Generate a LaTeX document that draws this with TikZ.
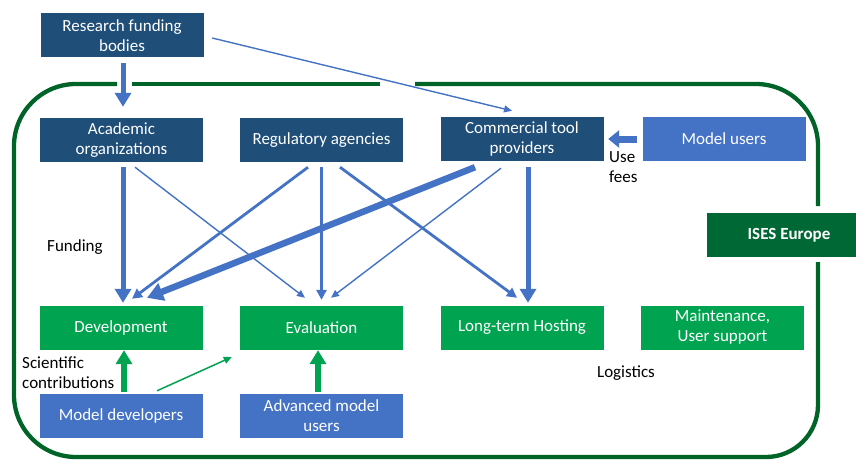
\documentclass[tikz,border=0pt]{standalone}
\usepackage{fontspec}
\setmainfont{Carlito}
\usetikzlibrary{arrows.meta,calc}
\definecolor{dblue}{RGB}{31,78,121}
\definecolor{mblue}{RGB}{68,114,196}
\definecolor{lgreen}{RGB}{0,163,79}
\definecolor{dgreen}{RGB}{0,104,52}
\definecolor{bgreen}{RGB}{0,100,40}
\begin{document}
\begin{tikzpicture}[x=1pt,y=-1pt,font=\fontsize{17}{20}\selectfont,
  box/.style={minimum width=163pt,minimum height=44pt,inner sep=0pt,text=white,align=center},
  dbox/.style={box,fill=dblue},
  mbox/.style={box,fill=mblue},
  gbox/.style={box,fill=lgreen},
  lbl/.style={inner sep=0pt,text=black,align=left},
  thk/.style={draw=mblue,line width=5pt,-{Triangle[length=14pt,width=16pt]}},
  xthk/.style={draw=mblue,line width=6.5pt,-{Triangle[length=16pt,width=18pt]}},
  med/.style={draw=mblue,line width=2.8pt,-{Triangle[length=10pt,width=10pt]}},
  thn/.style={draw=mblue,line width=1.4pt,-{Triangle[length=8pt,width=7pt]}},
  gthk/.style={draw=lgreen,line width=5.5pt,-{Triangle[length=14pt,width=16pt]}},
  gthn/.style={draw=lgreen,line width=1.5pt,-{Triangle[length=8pt,width=7pt]}},
  border/.style={draw=bgreen,line width=4.3pt}]
\useasboundingbox (0,0) rectangle (856,460);
\clip (0,0) rectangle (856,460);
% green frame
\draw[border,rounded corners=62pt] (117,84) -- (14,84) -- (14,457) [rounded corners=52pt] -- (818,457) -- (818,262);
\draw[border] (132,84) -- (380,84);
\draw[border,rounded corners=62pt] (415,84) -- (818,84) -- (818,206);
% nodes
\node[dbox] (rfb) at (122,35.5) {Research funding\\bodies};
\node[dbox] (acad) at (121.5,140) {Academic\\organizations};
\node[dbox] (reg) at (321.5,140) {Regulatory agencies};
\node[dbox] (comm) at (522,139) {Commercial tool\\providers};
\node[mbox] (mu) at (724,139) {Model users};
\node[gbox] (dev) at (121,327.5) {Development};
\node[gbox] (eval) at (321.5,327.5) {Evaluation};
\node[gbox] (host) at (522,327.5) {Long-term Hosting};
\node[gbox] (maint) at (722.5,327.5) {Maintenance,\\User support};
\node[mbox] (mdev) at (121,415.5) {Model developers};
\node[mbox] (amu) at (321.5,415.5) {Advanced model\\users};
\node[box,fill=dgreen,minimum width=164pt,font=\fontsize{17}{20}\selectfont\bfseries] (ises) at (789,235) {ISES Europe};
% labels
\node[lbl,anchor=west] (usefees) at (609,167) {Use\\fees};
\node[lbl,anchor=west] (funding) at (47,247) {Funding};
\node[lbl,anchor=west] (scic) at (22,373) {Scientific\\contributions};
\node[lbl] (logi) at (626,373) {Logistics};
% connectors
\draw[thk] ($(rfb.south)+(1,5.5)$) -- ($(acad.north)+(1.5,-11)$);
\draw[thn] ($(rfb.east)+(8.5,2.5)$) -- ($(comm.north)+(-10,-6)$);
\draw[thk] ($(acad.south)+(1.5,5)$) -- ($(dev.north)+(2,-2.5)$);
\draw[thn] ($(acad.south)+(13.5,5)$) -- ($(eval.north)+(-16.5,-7.5)$);
\draw[med] ($(reg.south)+(-13.5,5)$) -- ($(dev.north)+(11,-6.5)$);
\draw[med] ($(reg.south)+(0,5)$) -- ($(eval.north)+(0,-5.5)$);
\draw[med] ($(reg.south)+(18.5,5)$) -- ($(host.north)+(-5,-7.5)$);
\draw[xthk] ($(comm.south)+(-47,6)$) -- ($(dev.north)+(26,-7.5)$);
\draw[thn] ($(comm.south)+(-21,7)$) -- ($(eval.north)+(9.5,-7.5)$);
\draw[thk] ($(comm.south)+(6,6)$) -- ($(host.north)+(6,-2.5)$);
\draw[draw=mblue,line width=7pt,-{Triangle[length=11pt,width=17pt]}] ($(mu.west)+(-5.5,0)$) -- ($(comm.east)+(4.5,0)$);
\draw[gthk] ($(mdev.north)+(3,-1.5)$) -- ($(dev.south)+(3,0.5)$);
\draw[gthn] ($(mdev.north)+(36,-2.5)$) -- ($(eval.west)+(-8,29.5)$);
\draw[gthk] ($(amu.north)+(-3.5,-1.5)$) -- ($(eval.south)+(-3.5,0.5)$);
\end{tikzpicture}
\end{document}
